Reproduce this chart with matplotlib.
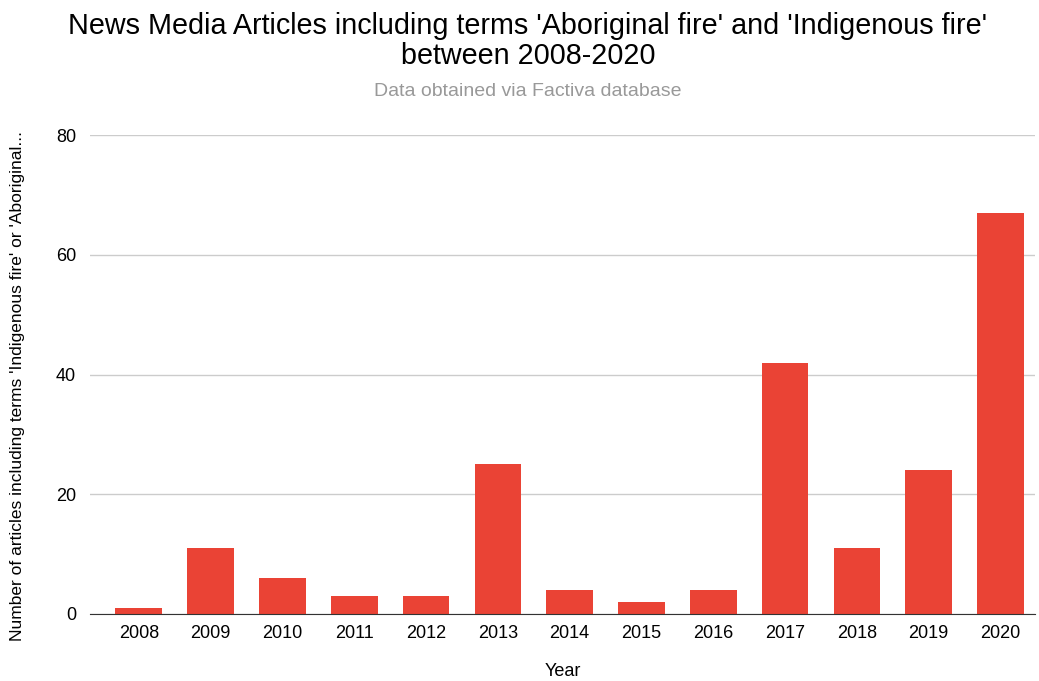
import matplotlib.pyplot as plt

plt.rcParams['font.family'] = ['Liberation Sans', 'DejaVu Sans']

years = ['2008', '2009', '2010', '2011', '2012', '2013', '2014',
         '2015', '2016', '2017', '2018', '2019', '2020']
articles = [1, 11, 6, 3, 3, 25, 4, 2, 4, 42, 11, 24, 67]

fig = plt.figure(figsize=(10.39, 6.81), dpi=100)
ax = fig.add_axes([90 / 1039, 67 / 681, (1035 - 90) / 1039, (614 - 135) / 681])

ax.bar(range(len(years)), articles, width=0.65, color='#ea4335', zorder=3)
ax.set_xlim(-0.68, 12.48)
ax.set_ylim(0, 80)
ax.set_yticks([0, 20, 40, 60, 80])
ax.set_xticks(range(len(years)))
ax.set_xticklabels(years)
ax.grid(axis='y', color='#cccccc', linewidth=1, zorder=0)
ax.tick_params(length=0, labelsize=13, pad=8)
ax.tick_params(axis='y', pad=10)
for side in ['top', 'right', 'left']:
    ax.spines[side].set_visible(False)
ax.spines['bottom'].set_color('#333333')
ax.spines['bottom'].set_zorder(4)

ax.set_xlabel('Year', fontsize=13)
ax.xaxis.set_label_coords(0.5, -(671 - 614) / (614 - 135))
ax.xaxis.label.set_va('center')
fig.text(18 / 1039, 1 - 386 / 681, "Number of articles including terms 'Indigenous fire' or 'Aboriginal...",
         rotation=90, fontsize=12.5, ha='center', va='center')

fig.text(528 / 1039, 1 - 41 / 681, "News Media Articles including terms 'Aboriginal fire' and 'Indigenous fire'\nbetween 2008-2020",
         fontsize=20.7, ha='center', va='center', linespacing=1.05)
fig.text(528 / 1039, 1 - 91 / 681, 'Data obtained via Factiva database', fontsize=14,
         color='#999999', ha='center', va='center')

plt.savefig('out.png', dpi=100)
